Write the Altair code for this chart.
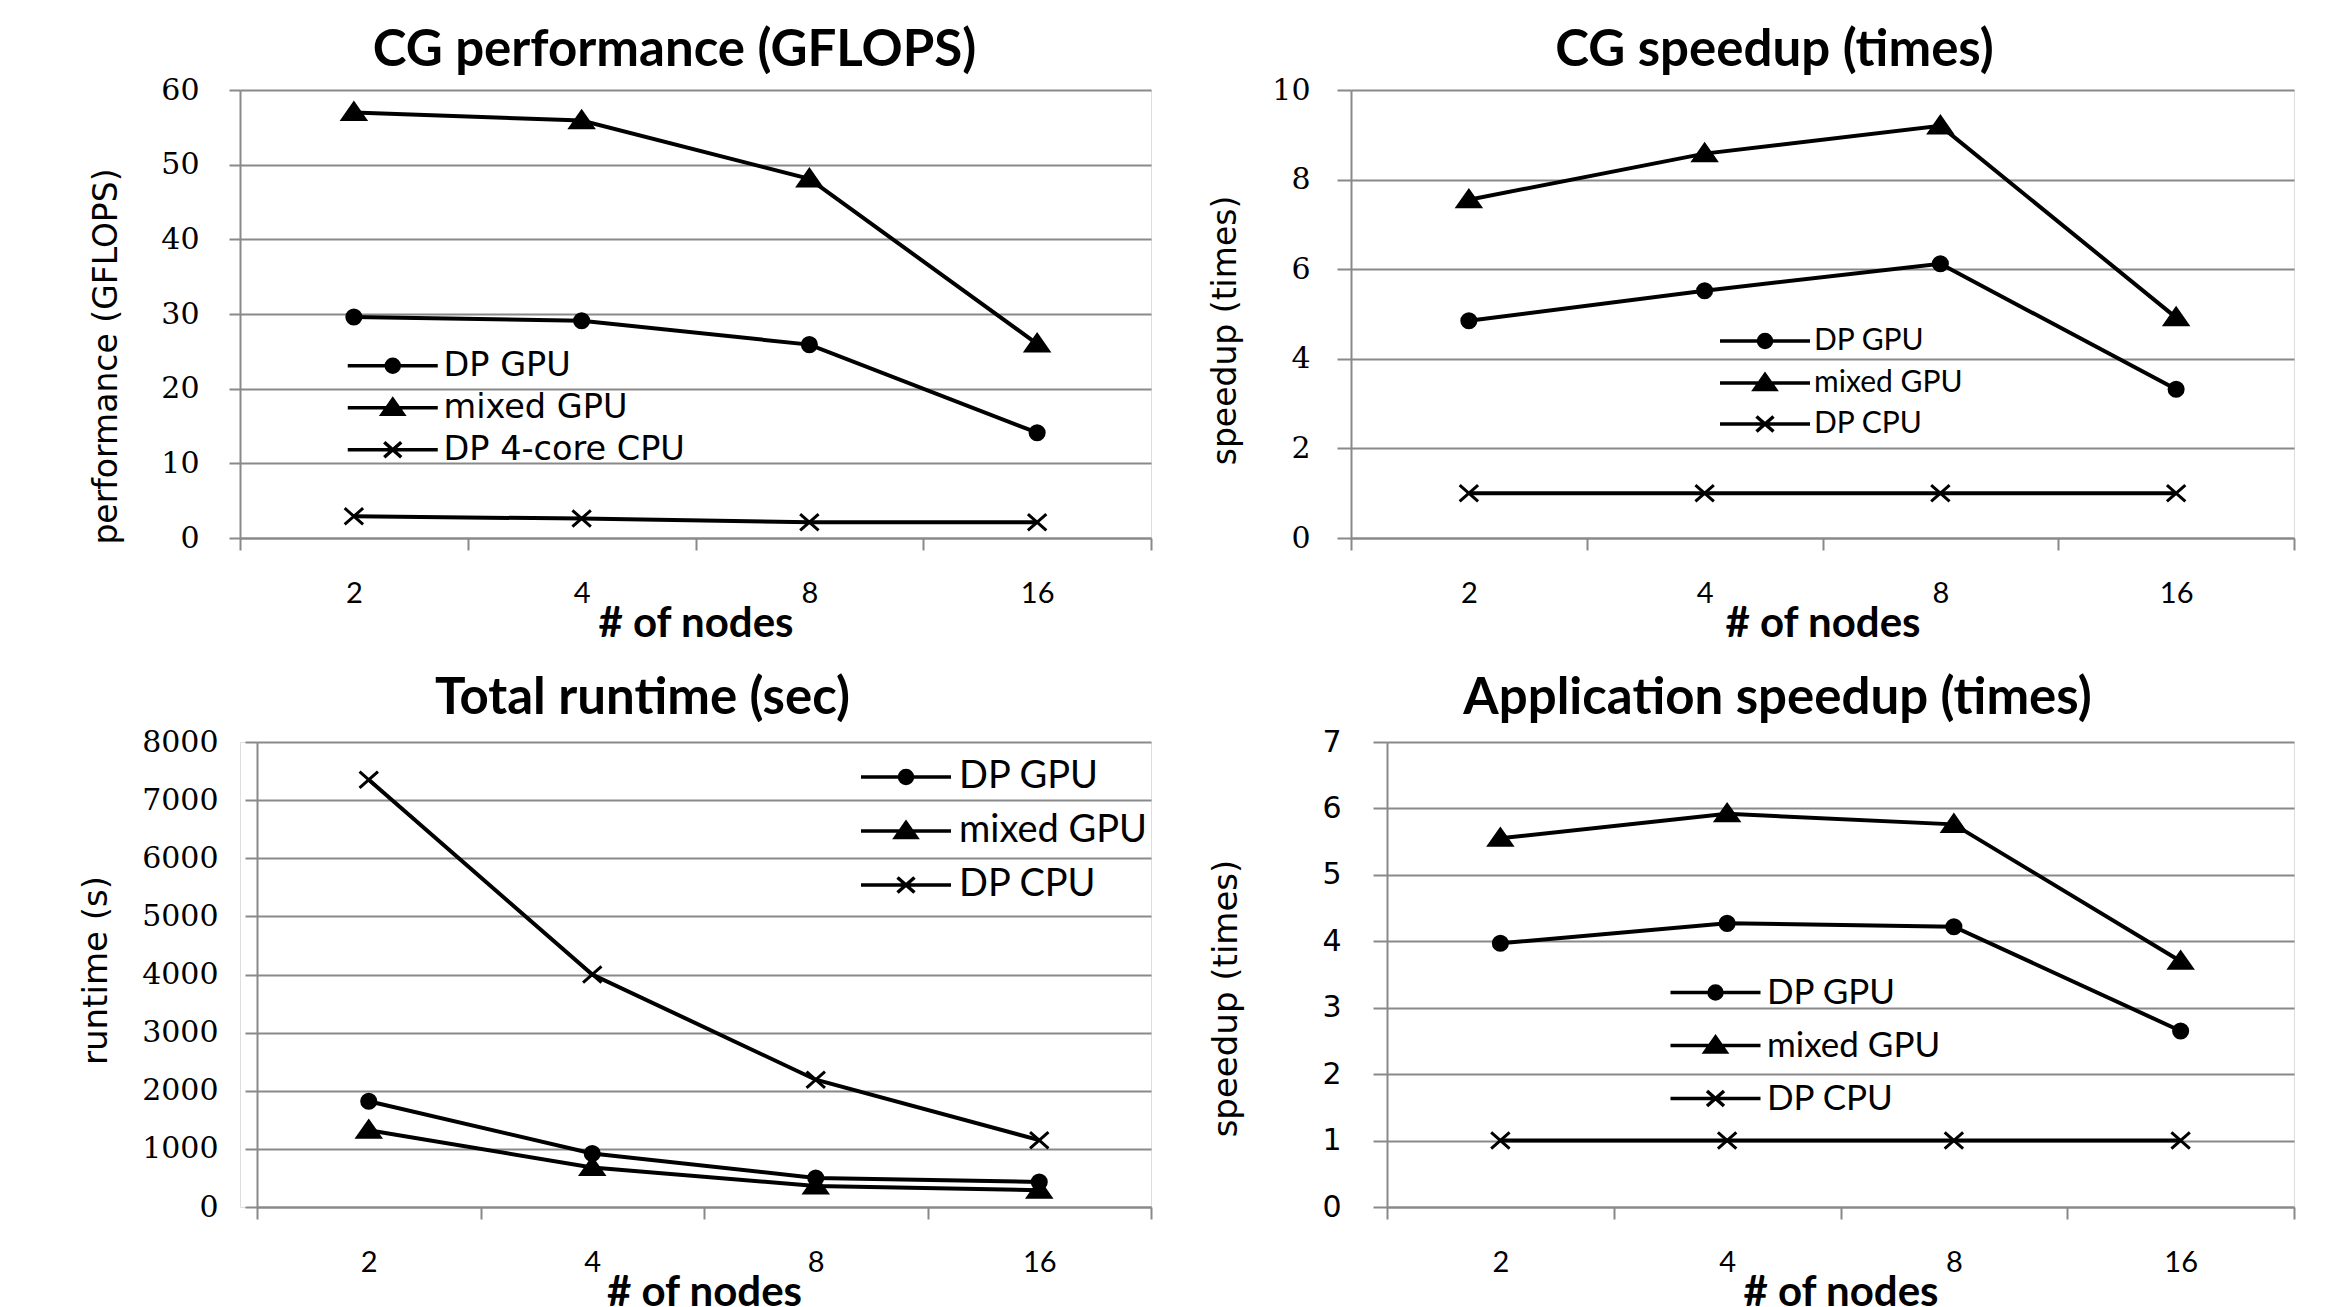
import altair as alt
import pandas as pd

# ---------------- data ----------------
nodes = ["2", "4", "8", "16"]

cg_series = ["DP GPU", "mixed GPU", "DP 4-core CPU"]
cg_perf_dp_gpu = [29.6, 29.1, 25.9, 14.1]
cg_perf_mixed_gpu = [57.0, 55.9, 48.1, 26.0]
cg_perf_dp_cpu = [2.9, 2.6, 2.1, 2.1]

sp_series = ["DP GPU", "mixed GPU", "DP CPU"]
cg_speedup_dp_gpu = [4.85, 5.52, 6.12, 3.32]
cg_speedup_mixed_gpu = [7.55, 8.58, 9.2, 4.92]
cg_speedup_dp_cpu = [1, 1, 1, 1]

runtime_dp_gpu = [1820, 920, 500, 430]
runtime_mixed_gpu = [1320, 680, 360, 290]
runtime_dp_cpu = [7350, 4000, 2190, 1150]

app_speedup_dp_gpu = [3.97, 4.27, 4.22, 2.65]
app_speedup_mixed_gpu = [5.55, 5.92, 5.76, 3.7]
app_speedup_dp_cpu = [1, 1, 1, 1]


def frame(series_names, columns):
    rows = []
    for name, vals in zip(series_names, columns):
        for i, (n, v) in enumerate(zip(nodes, vals)):
            rows.append({"nodes": n, "idx": i, "series": name, "value": v})
    return pd.DataFrame(rows)


df_cg = frame(cg_series, [cg_perf_dp_gpu, cg_perf_mixed_gpu, cg_perf_dp_cpu])
df_sp = frame(sp_series, [cg_speedup_dp_gpu, cg_speedup_mixed_gpu, cg_speedup_dp_cpu])
df_rt = frame(sp_series, [runtime_dp_gpu, runtime_mixed_gpu, runtime_dp_cpu])
df_app = frame(sp_series, [app_speedup_dp_gpu, app_speedup_mixed_gpu, app_speedup_dp_cpu])

# ---------------- styling ----------------
GRID = "#898989"
CIRCLE = "M-0.65,0A0.65,0.65,0,1,1,0.65,0A0.65,0.65,0,1,1,-0.65,0Z"
TRI = "M0,-0.85L1.05,0.65L-1.05,0.65Z"
XMARK = "M-0.85,-0.75L0.85,0.75M-0.85,0.75L0.85,-0.75"
MARK_PATHS = [CIRCLE, TRI, XMARK]
LINE = "M-4.5,0H4.5"
LEGEND_PATHS = [LINE + CIRCLE, LINE + TRI, LINE + XMARK]


def panel(df, series, title, title_dx, title_offset, ytitle, ydomain, yvals, w, h, yax, leg, shift=0):
    xscale = alt.Scale(type="band", paddingInner=0, paddingOuter=0)
    if shift:
        xscale = alt.Scale(type="band", paddingInner=0, paddingOuter=0, range=[shift, w])
    x = alt.X(
        "nodes:N",
        sort=nodes,
        bandPosition=0.5,
        scale=xscale,
        axis=alt.Axis(
            title="# of nodes",
            titleFont="Lato",
            titleFontSize=42,
            titleFontWeight="bold",
            titleColor="black",
            titlePadding=-5,
            labelAngle=0,
            labelFont="Lato",
            labelFontSize=29,
            labelColor="black",
            labelPadding=29,
            tickBand="extent",
            tickSize=12,
            tickWidth=2,
            tickColor=GRID,
            domainColor=GRID,
            domainWidth=2,
            grid=False,
        ),
    )
    y = alt.Y(
        "value:Q",
        scale=alt.Scale(domain=ydomain, nice=False, zero=True),
        axis=alt.Axis(
            values=yvals,
            format="d",
            offset=-shift,
            title=ytitle,
            titleFont="DejaVu Sans",
            titleFontSize=yax["tfs"],
            titleFontWeight="normal",
            titleColor="black",
            titlePadding=yax["tp"],
            titleY=yax["ty"],
            labelFont=yax["font"],
            labelFontSize=yax["lfs"],
            labelColor="black",
            labelPadding=yax["lp"],
            tickSize=yax["ts"],
            tickWidth=2,
            tickColor=GRID,
            domainColor=GRID,
            domainWidth=2,
            grid=True,
            gridColor=GRID,
            gridWidth=2,
            minExtent=yax["ext"],
            maxExtent=yax["ext"],
        ),
    )
    base = alt.Chart(df).encode(x=x, y=y)
    lines = base.mark_line(color="black", strokeWidth=4).encode(
        detail="series:N", order="idx:Q"
    )
    pts = base.mark_point(
        filled=True, fill="black", stroke="black", strokeWidth=3, size=470, opacity=1
    ).encode(
        shape=alt.Shape(
            "series:N",
            scale=alt.Scale(domain=series, range=MARK_PATHS),
            legend=None,
        )
    )
    legend_layer = base.mark_point(
        filled=True, fill="black", stroke="black", strokeWidth=3.5, size=400, opacity=0
    ).encode(
        shape=alt.Shape(
            "series:N",
            scale=alt.Scale(domain=series, range=LEGEND_PATHS),
            legend=alt.Legend(
                title=None,
                orient="none",
                legendX=leg["x"],
                legendY=leg["y"],
                padding=0,
                labelFont=leg["font"],
                labelFontSize=leg["fs"],
                labelColor="black",
                labelLimit=500,
                labelOffset=34,
                rowPadding=leg["rp"],
                symbolSize=400,
                symbolStrokeWidth=3.5,
                symbolOpacity=1,
            ),
        )
    )
    return (
        alt.layer(lines, pts, legend_layer)
        .resolve_scale(shape="independent")
        .properties(
            width=w,
            height=h,
            title=alt.TitleParams(
                text=title,
                font="Lato",
                fontSize=51,
                fontWeight="bold",
                color="black",
                anchor="middle",
                frame="group",
                dx=title_dx,
                offset=title_offset,
            ),
        )
    )


p1 = panel(
    df_cg, cg_series, "CG performance (GFLOPS)", -21, -2, "performance (GFLOPS)",
    [0, 60], [0, 10, 20, 30, 40, 50, 60], 911, 448,
    {"font": "DejaVu Serif", "lfs": 30, "lp": 30, "ts": 11, "ext": 77, "tp": 39.5,
     "tfs": 33, "ty": 266},
    {"x": 136, "y": 259, "font": "DejaVu Sans", "fs": 33.5, "rp": 7},
)
p2 = panel(
    df_sp, sp_series, "CG speedup (times)", -48, -2, "speedup (times)",
    [0, 10], [0, 2, 4, 6, 8, 10], 943, 448,
    {"font": "DejaVu Serif", "lfs": 30, "lp": 27, "ts": 14, "ext": 83, "tp": 26,
     "tfs": 33, "ty": 240},
    {"x": 399, "y": 236, "font": "Lato", "fs": 30, "rp": 11},
)
p3 = panel(
    df_rt, sp_series, "Total runtime (sec)", -53, 2, "runtime (s)",
    [0, 8000], [0, 1000, 2000, 3000, 4000, 5000, 6000, 7000, 8000], 911, 465,
    {"font": "DejaVu Serif", "lfs": 30, "lp": 27, "ts": 12, "ext": 116, "tp": 28,
     "tfs": 34, "ty": 228},
    {"x": 647, "y": 16, "font": "Lato", "fs": 38, "rp": 16},
    shift=17,
)
p4 = panel(
    df_app, sp_series, "Application speedup (times)", -63, 2, "speedup (times)",
    [0, 7], [0, 1, 2, 3, 4, 5, 6, 7], 907, 465,
    {"font": "DejaVu Sans", "lfs": 30, "lp": 32, "ts": 14, "ext": 67, "tp": 77,
     "tfs": 34, "ty": 256},
    {"x": 311, "y": 233, "font": "Lato", "fs": 35, "rp": 17},
)

chart = (
    alt.concat(p1, p2, p3, p4, columns=2, align="none", spacing={"row": 27, "column": 55})
    .properties(padding={"left": 70, "top": 16, "right": 0, "bottom": 0})
    .configure_view(stroke=None)
    .configure(background="white")
)

chart.save("out.html", embed_options={"renderer": "svg", "actions": False})
